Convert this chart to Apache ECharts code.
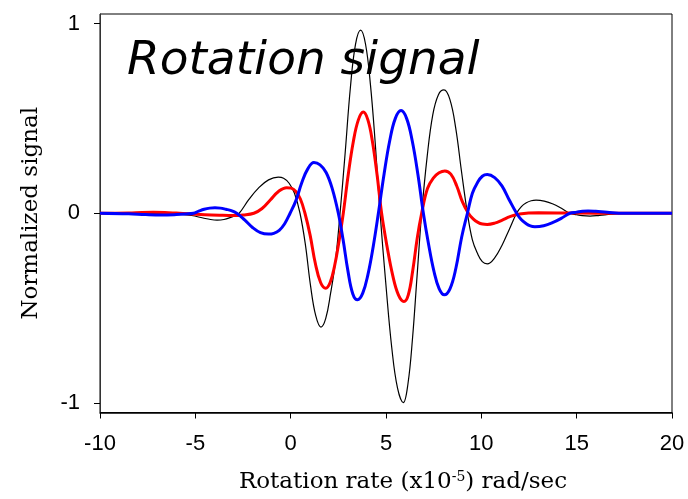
<!DOCTYPE html>
<html>
<head>
<meta charset="utf-8">
<script src="https://cdn.jsdelivr.net/npm/echarts@6.0.0/dist/echarts.min.js"></script>
<style>
  html, body { margin: 0; padding: 0; background: #fff; }
  #main { width: 688px; height: 499px; }
</style>
</head>
<body>
<div id="main"></div>
<script>
// curves: [rotation rate, normalized signal]
var blackCurve = [[-10,0],[-7,-0.001],[-6,-0.004],[-5.2,-0.012],[-4.6,-0.025],[-4.2,-0.033],[-3.86,-0.036],[-3.5,-0.033],[-3.15,-0.022],[-2.9,-0.011],
  [-2.7,0],[-2.19,0.073],[-1.68,0.134],[-1.16,0.176],[-0.65,0.19],[-0.37,0.184],[-0.08,0.158],[0.2,0.105],
  [0.49,0],[0.765,-0.16],[1.04,-0.38],[1.315,-0.54],[1.59,-0.6],[1.84,-0.554],[2.09,-0.424],[2.34,-0.26],
  [2.59,0],[2.86,0.32],[3.13,0.66],[3.4,0.89],[3.67,0.965],[3.925,0.892],[4.18,0.682],[4.435,0.37],
  [4.69,0],[5,-0.382],[5.3,-0.706],[5.605,-0.922],[5.91,-0.998],[6.15,-0.9],[6.39,-0.66],[6.63,-0.33],
  [6.87,0],[7.16,0.3],[7.455,0.52],[7.75,0.625],[8.04,0.65],[8.35,0.6],[8.655,0.45],[8.96,0.22],
  [9.27,0],[9.53,-0.14],[9.79,-0.21],[10.05,-0.255],[10.31,-0.267],[10.7,-0.235],[11.08,-0.17],[11.465,-0.085],
  [11.85,0],[12.1,0.035],[12.36,0.055],[12.615,0.066],[12.87,0.069],[13.3,0.064],[13.76,0.049],[14.2,0.026],
  [14.65,0],[15,-0.008],[15.3,-0.013],[15.7,-0.015],[16.2,-0.011],[16.8,-0.005],[17.5,0],[20,0]];
var redCurve = [[-10,0],[-8.5,0.001],[-7.8,0.004],[-7.2,0.005],[-6.6,0.004],[-6,0.001],[-5.3,-0.003],[-4.5,-0.008],[-3.6,-0.011],[-3,-0.012],[-2.5,-0.009],
  [-1.93,0],[-1.5,0.025],[-1.07,0.07],[-0.64,0.115],[-0.21,0.135],[0.03,0.132],[0.27,0.115],[0.51,0.075],
  [0.75,0],[1.02,-0.115],[1.295,-0.265],[1.57,-0.365],[1.84,-0.395],[2.07,-0.365],[2.3,-0.279],[2.53,-0.151],
  [2.76,0],[3.02,0.204],[3.285,0.377],[3.55,0.492],[3.81,0.533],[4.05,0.492],[4.29,0.377],[4.53,0.204],
  [4.77,0],[5.06,-0.178],[5.355,-0.329],[5.65,-0.43],[5.94,-0.465],[6.17,-0.43],[6.405,-0.3],[6.64,-0.13],
  [6.87,0],[7.175,0.13],[7.48,0.185],[7.785,0.213],[8.09,0.223],[8.4,0.206],[8.705,0.145],[9.01,0.06],
  [9.32,0],[9.57,-0.03],[9.82,-0.048],[10.06,-0.057],[10.31,-0.059],[10.7,-0.052],[11.1,-0.036],[11.5,-0.018],
  [12,-0.004],[13,0.002],[15,0.001],[17,0],[20,0]];
var blueCurve = [[-10,0],[-8.5,-0.003],[-7.6,-0.007],[-6.8,-0.009],[-6,-0.007],[-5.5,-0.004],
  [-5.1,0],[-4.82,0.011],[-4.535,0.021],[-4.25,0.027],[-3.97,0.029],[-3.685,0.027],[-3.4,0.021],[-3.115,0.014],
  [-2.83,0],[-2.415,-0.035],[-2,-0.075],[-1.585,-0.102],[-1.17,-0.11],[-0.885,-0.106],[-0.6,-0.09],[-0.315,-0.055],
  [-0.03,0],[0.28,0.068],[0.595,0.165],[0.905,0.235],[1.22,0.267],[1.54,0.255],[1.86,0.215],[2.18,0.13],
  [2.5,0],[2.75,-0.14],[3.005,-0.305],[3.26,-0.425],[3.51,-0.456],[3.78,-0.421],[4.055,-0.322],[4.33,-0.175],
  [4.6,0],[4.9,0.207],[5.195,0.382],[5.49,0.5],[5.79,0.541],[6.08,0.5],[6.375,0.382],[6.67,0.207],
  [6.96,0],[7.235,-0.165],[7.51,-0.304],[7.785,-0.397],[8.06,-0.43],[8.36,-0.397],[8.665,-0.29],[8.97,-0.125],
  [9.27,0],[9.53,0.105],[9.79,0.16],[10.05,0.195],[10.31,0.204],[10.7,0.188],[11.08,0.144],[11.465,0.07],
  [11.85,0],[12.09,-0.033],[12.33,-0.053],[12.57,-0.067],[12.81,-0.071],[13.27,-0.066],[13.73,-0.05],[14.19,-0.027],
  [14.65,0],[15,0.006],[15.3,0.011],[15.6,0.012],[16,0.01],[16.6,0.005],[17.5,0],[20,0]];
var yTicks = [-1, 0, 1];

var chart = echarts.init(document.getElementById('main'));
var tickFont = { color: '#000', fontSize: 22, fontFamily: '"Liberation Sans", Arial, sans-serif' };

var option = {
  animation: false,
  backgroundColor: '#fff',
  grid: { left: 100, right: 16, top: 14, bottom: 85, show: true, borderColor: '#000', borderWidth: 1 },
  xAxis: {
    type: 'value', min: -10, max: 20, interval: 5,
    axisLine: { onZero: false, lineStyle: { color: '#000', width: 1.5 } },
    axisTick: { length: 6, lineStyle: { color: '#000' } },
    axisLabel: Object.assign({ margin: 20 }, tickFont),
    splitLine: { show: false },
    name: 'Rotation rate (x10{sup|-5}) rad/sec',
    nameLocation: 'middle', nameGap: 58,
    nameTextStyle: {
      color: '#000', fontSize: 23, fontFamily: '"DejaVu Serif", serif', padding: [0, 0, 0, 34],
      rich: { sup: { fontSize: 14, fontFamily: '"DejaVu Serif", serif', color: '#000', verticalAlign: 'top', padding: [0, 0, 10, 0] } }
    }
  },
  yAxis: {
    type: 'value', min: -1.05, max: 1.05,
    axisLine: { onZero: false, lineStyle: { color: '#333', width: 1 } },
    axisTick: { length: 6, customValues: yTicks, lineStyle: { color: '#000' } },
    axisLabel: Object.assign({ margin: 20, customValues: yTicks }, tickFont),
    splitLine: { show: false },
    name: 'Normalized signal',
    nameLocation: 'middle', nameGap: 57,
    nameTextStyle: { color: '#000', fontSize: 23, fontFamily: '"DejaVu Serif", serif' }
  },
  graphic: [{
    type: 'text', left: 127, top: 38,
    style: { text: 'Rotation signal', fill: '#000', font: 'italic 47px "DejaVu Sans", sans-serif' }
  }],
  series: [
    { type: 'line', data: blackCurve, smooth: 0.4, showSymbol: false, lineStyle: { color: '#000', width: 1.2 } },
    { type: 'line', data: redCurve, smooth: 0.4, showSymbol: false, lineStyle: { color: '#ff0000', width: 3 } },
    { type: 'line', data: blueCurve, smooth: 0.4, showSymbol: false, lineStyle: { color: '#0000ff', width: 3 } }
  ]
};
chart.setOption(option);
</script>
</body>
</html>
